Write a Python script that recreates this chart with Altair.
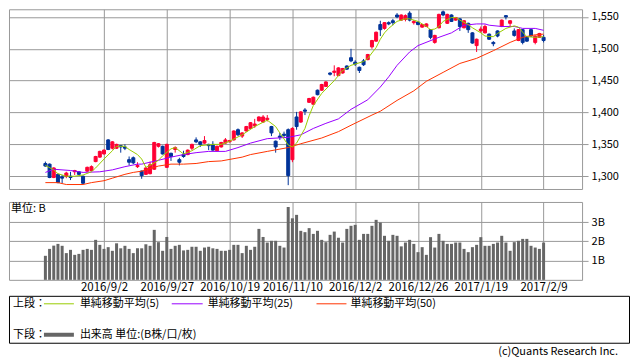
import altair as alt
import pandas as pd

# ---------------- data (TOPIX-like daily candles, 120 sessions) ----------------
opens = [1320, 1319, 1298, 1303, 1299, 1300, 1300, 1307, 1307, 1300,
         1308, 1309, 1323, 1330, 1335, 1357, 1344, 1344, 1348, 1346,
         1326, 1329, 1315, 1308, 1303, 1304, 1311, 1347, 1347, 1314,
         1336, 1342, 1326, 1334, 1334, 1344, 1357, 1354, 1352, 1350,
         1350, 1340, 1346, 1352, 1354, 1357, 1373, 1363, 1371, 1375,
         1379, 1387, 1385, 1389, 1378, 1355, 1363, 1366, 1373, 1326,
         1393, 1385, 1404, 1416, 1413, 1435, 1435, 1441, 1462, 1463,
         1458, 1462, 1473, 1486, 1479, 1471, 1481, 1483, 1503, 1512,
         1538, 1532, 1541, 1544, 1553, 1545, 1546, 1556, 1541, 1542,
         1534, 1535, 1530, 1510, 1533, 1558, 1540, 1553, 1545, 1547,
         1533, 1540, 1525, 1505, 1528, 1525, 1523, 1510, 1528, 1535,
         1552, 1540, 1528, 1513, 1530, 1518, 1530, 1510, 1518, 1518]
highs = [1323, 1320, 1314, 1304, 1302, 1307, 1307, 1310, 1308, 1301,
         1315, 1317, 1332, 1340, 1342, 1358, 1355, 1351, 1349, 1350,
         1331, 1331, 1322, 1309, 1314, 1323, 1354, 1352, 1348, 1351,
         1337, 1347, 1329, 1340, 1342, 1351, 1361, 1355, 1363, 1351,
         1355, 1348, 1354, 1360, 1357, 1372, 1375, 1369, 1379, 1385,
         1390, 1394, 1396, 1396, 1379, 1356, 1368, 1370, 1375, 1377,
         1401, 1402, 1407, 1423, 1425, 1436, 1445, 1449, 1463, 1474,
         1471, 1470, 1474, 1500, 1482, 1472, 1484, 1492, 1514, 1527,
         1544, 1542, 1543, 1547, 1556, 1554, 1554, 1559, 1545, 1543,
         1539, 1540, 1531, 1522, 1555, 1560, 1555, 1554, 1550, 1548,
         1545, 1541, 1526, 1516, 1535, 1538, 1524, 1512, 1529, 1546,
         1553, 1545, 1532, 1531, 1531, 1519, 1531, 1521, 1525, 1522]
lows = [1315, 1297, 1297, 1289, 1289, 1297, 1294, 1302, 1302, 1288,
        1307, 1308, 1322, 1329, 1334, 1341, 1342, 1343, 1337, 1341,
        1317, 1319, 1313, 1296, 1302, 1303, 1310, 1345, 1334, 1313,
        1324, 1337, 1317, 1329, 1333, 1341, 1352, 1346, 1351, 1341,
        1340, 1339, 1345, 1351, 1353, 1356, 1363, 1360, 1370, 1374,
        1376, 1386, 1384, 1386, 1363, 1337, 1357, 1360, 1286, 1322,
        1373, 1384, 1396, 1415, 1412, 1427, 1434, 1440, 1458, 1457,
        1457, 1461, 1467, 1479, 1473, 1462, 1473, 1482, 1500, 1511,
        1520, 1530, 1537, 1537, 1548, 1544, 1543, 1543, 1538, 1537,
        1533, 1534, 1515, 1508, 1532, 1551, 1539, 1542, 1544, 1528,
        1532, 1525, 1508, 1495, 1525, 1524, 1514, 1504, 1518, 1534,
        1546, 1535, 1519, 1512, 1507, 1511, 1519, 1507, 1517, 1510]
closes = [1316, 1298, 1313, 1290, 1297, 1305, 1298, 1309, 1303, 1289,
          1314, 1315, 1331, 1339, 1341, 1342, 1354, 1350, 1346, 1344,
          1322, 1321, 1317, 1301, 1313, 1318, 1353, 1351, 1335, 1350,
          1331, 1345, 1322, 1331, 1341, 1350, 1354, 1350, 1356, 1348,
          1341, 1347, 1353, 1357, 1356, 1371, 1365, 1368, 1378, 1384,
          1382, 1393, 1393, 1391, 1368, 1346, 1361, 1364, 1301, 1375,
          1378, 1401, 1402, 1422, 1424, 1428, 1444, 1448, 1460, 1465,
          1470, 1469, 1468, 1481, 1476, 1466, 1475, 1491, 1513, 1526,
          1530, 1541, 1539, 1541, 1550, 1553, 1552, 1545, 1543, 1538,
          1538, 1539, 1518, 1521, 1554, 1553, 1554, 1543, 1549, 1535,
          1544, 1530, 1509, 1515, 1531, 1535, 1515, 1508, 1520, 1545,
          1550, 1544, 1521, 1530, 1510, 1512, 1520, 1520, 1524, 1513]
volume_b = [1.25, 1.61, 1.78, 1.87, 1.77, 1.39, 1.56, 1.30, 1.35, 1.56,
            1.61, 1.56, 2.08, 1.82, 1.61, 1.70, 1.51, 1.90, 1.64, 1.77,
            1.61, 1.39, 1.64, 1.64, 1.85, 1.77, 2.60, 1.96, 1.51, 2.23,
            1.61, 1.77, 1.82, 1.53, 1.56, 1.72, 1.72, 1.51, 1.68, 1.72,
            1.64, 1.61, 1.51, 1.51, 1.56, 1.82, 1.82, 1.39, 1.77, 1.56,
            1.72, 2.65, 2.23, 1.94, 2.03, 2.03, 1.77, 1.68, 3.79, 3.20,
            3.38, 2.55, 2.48, 2.69, 2.39, 2.55, 2.08, 1.96, 2.34, 2.51,
            2.19, 1.94, 2.65, 2.81, 2.86, 2.08, 2.39, 2.39, 2.81, 3.12,
            2.98, 2.29, 2.03, 2.34, 2.29, 1.74, 1.94, 2.08, 1.87, 1.44,
            1.70, 1.30, 2.22, 1.68, 2.39, 2.03, 1.87, 1.87, 1.94, 1.94,
            1.61, 1.44, 1.70, 1.82, 2.22, 1.77, 1.77, 1.87, 1.94, 2.29,
            1.94, 1.51, 1.96, 2.03, 2.13, 2.13, 1.77, 1.68, 1.61, 1.94]

# moving averages (session index, value)
ma5_idx = [0, 2, 3, 5, 7, 9, 11, 12, 14, 16, 17, 19, 20, 22, 23, 24, 25, 27, 28, 30,
           31, 33, 35, 37, 40, 42, 44, 47, 50, 53, 55, 56, 58, 59, 60, 62, 63, 64, 66, 69,
           71, 73, 76, 77, 79, 80, 81, 82, 84, 86, 87, 89, 91, 92, 93, 94, 95, 97, 98, 99,
           101, 102, 104, 105, 107, 108, 110, 112, 113, 114, 115, 117, 119]
ma5_val = [1317, 1310, 1304, 1300, 1300, 1302, 1307, 1313, 1327, 1340, 1347, 1347, 1342, 1334, 1327, 1314, 1317, 1325, 1332, 1343,
           1345, 1335, 1340, 1348, 1350, 1350, 1355, 1365, 1378, 1388, 1378, 1368, 1349, 1346, 1352, 1375, 1395, 1411, 1430, 1450,
           1466, 1474, 1480, 1485, 1502, 1515, 1525, 1532, 1543, 1547, 1547, 1543, 1535, 1530, 1531, 1535, 1543, 1549, 1549, 1545,
           1538, 1533, 1525, 1520, 1519, 1524, 1532, 1536, 1534, 1526, 1519, 1518, 1519]
ma25_idx = [0, 2, 6, 9, 13, 16, 19, 22, 23, 27, 30, 33, 36, 39, 43, 46, 49, 53, 58, 61,
            64, 67, 70, 73, 77, 80, 82, 84, 87, 89, 94, 97, 99, 100, 103, 105, 106, 109, 112, 114,
            117, 119]
ma25_val = [1306, 1311, 1309, 1306, 1307, 1310, 1315, 1319, 1319, 1325, 1330, 1334, 1337, 1339, 1339, 1345, 1352, 1359, 1361, 1365,
            1375, 1383, 1390, 1405, 1420, 1440, 1456, 1474, 1495, 1505, 1518, 1525, 1533, 1537, 1539, 1539, 1537, 1535, 1535, 1532,
            1532, 1529]
ma50_idx = [0, 3, 5, 9, 11, 14, 16, 19, 21, 23, 27, 30, 33, 36, 39, 42, 47, 49, 53, 58,
            61, 66, 70, 73, 78, 80, 84, 88, 91, 95, 99, 103, 107, 111, 114, 117, 119]
ma50_val = [1290, 1290, 1287, 1287, 1290, 1293, 1297, 1303, 1306, 1308, 1316, 1319, 1319, 1320, 1323, 1324, 1330, 1334, 1339, 1345,
            1351, 1360, 1370, 1380, 1396, 1402, 1419, 1434, 1449, 1463, 1477, 1485, 1497, 1510, 1518, 1522, 1523]

date_tick_idx = [14, 29, 44, 59, 74, 89, 104, 119]
date_tick_lab = ["2016/9/2", "2016/9/27", "2016/10/19", "2016/11/10",
                 "2016/12/2", "2016/12/26", "2017/1/19", "2017/2/9"]
price_ticks = [1300, 1350, 1400, 1450, 1500, 1550]
vol_ticks = [1, 2, 3]

legend_upper = ["単純移動平均(5)", "単純移動平均(25)", "単純移動平均(50)"]
legend_lower = "出来高 単位:(B株/口/枚)"

# ---------------- styling ----------------
FONT = "Noto Sans CJK JP"
GRID = "#999999"
RED = "#ff0033"
BLUE = "#003399"
C5, C25, C50 = "#99cc00", "#9900ff", "#ff3300"
VOLC = "#666666"
W = 574

df = pd.DataFrame({
    "i": list(range(len(closes))),
    "open": opens, "high": highs, "low": lows, "close": closes, "vol": volume_b,
})

x_scale = alt.Scale(domain=[-7.5, 127], nice=False, zero=False)
label_expr = " : ".join(f"datum.value == {i} ? '{l}'" for i, l in zip(date_tick_idx, date_tick_lab)) + " : ''"

x_main_axis = alt.Axis(values=date_tick_idx, grid=True, gridColor=GRID, labels=False,
                       ticks=False, domain=False, title=None)
y_main_scale = alt.Scale(domain=[1280, 1562], nice=False, zero=False)
y_main_axis = alt.Axis(orient="right", values=price_ticks, format=",d", grid=True, gridColor=GRID,
                       tickColor=GRID, tickSize=6, domain=False, labelPadding=3, title=None)

col_scale = alt.Scale(domain=["up", "down"], range=[RED, BLUE])

candles = alt.Chart(df).transform_calculate(
    dir="datum.close >= datum.open ? 'up' : 'down'"
)

wicks = candles.mark_rule(strokeWidth=1).encode(
    x=alt.X("i:Q", scale=x_scale, axis=x_main_axis),
    y=alt.Y("low:Q", scale=y_main_scale, axis=y_main_axis),
    y2="high:Q",
    color=alt.Color("dir:N", scale=col_scale, legend=None),
)
bodies = candles.mark_bar(size=3, strokeWidth=1).encode(
    x=alt.X("i:Q", scale=x_scale, axis=x_main_axis),
    y=alt.Y("open:Q", scale=y_main_scale, axis=y_main_axis),
    y2="close:Q",
    color=alt.Color("dir:N", scale=col_scale, legend=None),
    stroke=alt.Stroke("dir:N", scale=col_scale, legend=None),
)


def ma_line(idx, vals, color):
    d = pd.DataFrame({"i": idx, "v": vals})
    return alt.Chart(d).mark_line(color=color, strokeWidth=1).encode(
        x=alt.X("i:Q", scale=x_scale, axis=x_main_axis),
        y=alt.Y("v:Q", scale=y_main_scale, axis=y_main_axis),
    )


main = alt.layer(
    wicks, bodies,
    ma_line(ma50_idx, ma50_val, C50),
    ma_line(ma25_idx, ma25_val, C25),
    ma_line(ma5_idx, ma5_val, C5),
).properties(width=W, height=180)

# ---------------- volume panel ----------------
vol_x_axis = alt.Axis(values=date_tick_idx, labelExpr=label_expr, grid=True, gridColor=GRID,
                      ticks=False, tickSize=0, domain=False, labelPadding=2, title=None,
                      labelOverlap=False, labelFlush=False, labelFontSize=11.5)
vol_y_axis = alt.Axis(orient="right", values=vol_ticks, labelExpr="datum.value + 'B'", grid=True,
                      gridColor=GRID, tickColor=GRID, tickSize=6, domain=False, labelPadding=3,
                      title=None)
vol_bars = alt.Chart(df).mark_bar(size=3, color=VOLC).encode(
    x=alt.X("i:Q", scale=x_scale, axis=vol_x_axis),
    y=alt.Y("vol:Q", scale=alt.Scale(domain=[0, 4.05], nice=False), axis=vol_y_axis),
)
unit_txt = alt.Chart(pd.DataFrame({"t": ["単位: B"]})).mark_text(
    align="left", baseline="middle", font=FONT, fontSize=11, color="black"
).encode(text="t:N", x=alt.value(2), y=alt.value(7))
vol = alt.layer(vol_bars, unit_txt).properties(width=W, height=78)

# ---------------- legend box ----------------
leg_base = alt.Chart(pd.DataFrame({"k": [0]}))


def txt(s, x, y, align="left"):
    return leg_base.mark_text(text=s, align=align, baseline="middle", font=FONT,
                              fontSize=11, color="black").encode(x=alt.value(x), y=alt.value(y))


def seg(x1, x2, y, color, w):
    return leg_base.mark_rule(color=color, strokeWidth=w).encode(
        x=alt.value(x1), x2=alt.value(x2), y=alt.value(y))


LH = 47
legend = alt.layer(
    txt("上段：", 4, 8),
    seg(35, 65, 8, C5, 1), txt(legend_upper[0], 71, 8),
    seg(163, 194, 8, C25, 1), txt(legend_upper[1], 199, 8),
    seg(308, 338, 8, C50, 1), txt(legend_upper[2], 342, 8),
    txt("下段：", 4, 39),
    seg(35, 65, 39, VOLC, 4), txt(legend_lower, 71, 39),
    txt("(c)Quants Research Inc.", 610, LH + 9, align="right"),
).properties(width=621, height=LH, view=alt.ViewBackground(stroke="black", strokeWidth=1))

upper = alt.vconcat(main, vol, spacing=11)
chart = alt.vconcat(upper, legend, spacing=1).properties(
    padding={"left": 0, "top": 0, "right": 0, "bottom": 0}
).configure_view(stroke=GRID).configure_axis(
    labelFont=FONT, labelFontSize=11, labelColor="#000000"
)

chart.save("out.html", embed_options={"renderer": "svg", "actions": False})
